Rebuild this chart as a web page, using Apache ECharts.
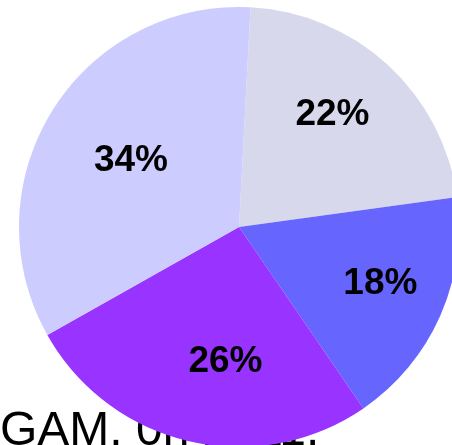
<!DOCTYPE html>
<html>
<head>
<meta charset="utf-8">
<script src="https://cdn.jsdelivr.net/npm/echarts@6/dist/echarts.min.js"></script>
<style>
html,body{margin:0;padding:0;background:#fff;}
#chart{width:452px;height:445px;}
</style>
</head>
<body>
<div id="chart"></div>
<script>
var categories = ['A', 'B', 'C', 'D'];
var values = [22.0, 17.6, 26.4, 34.0];
var sliceColors = ['#d8d8ec', '#6666ff', '#9933ff', '#ccccff'];
var footerText = 'GAM. 0n 2011.';
// label nudges (style only) relative to the default inside position
var labelNudge = [[17, -29], [38, 11], [12, 25], [-12, -7]];

var chart = echarts.init(document.getElementById('chart'), null, {renderer: 'canvas'});
chart.setOption({
  animation: false,
  backgroundColor: '#ffffff',
  graphic: [{
    type: 'text',
    z: 0,
    left: 0,
    top: 408,
    style: {
      text: footerText,
      font: '48px "Liberation Sans", Arial, sans-serif',
      fill: '#000000'
    }
  }],
  series: [{
    type: 'pie',
    z: 2,
    center: [239, 227],
    radius: [0, 220],
    startAngle: 87,
    clockwise: true,
    avoidLabelOverlap: false,
    silent: true,
    label: {
      show: true,
      position: 'inside',
      formatter: function (p) { return Math.round(p.percent) + '%'; },
      fontFamily: '"Liberation Sans", Arial, sans-serif',
      fontWeight: 'bold',
      fontSize: 37,
      color: '#000000'
    },
    labelLayout: function (p) {
      var n = labelNudge[p.dataIndex];
      return {dx: n[0], dy: n[1]};
    },
    labelLine: {show: false},
    itemStyle: {borderWidth: 0},
    data: categories.map(function (c, i) {
      return {name: c, value: values[i], itemStyle: {color: sliceColors[i]}};
    })
  }]
});
</script>
</body>
</html>
